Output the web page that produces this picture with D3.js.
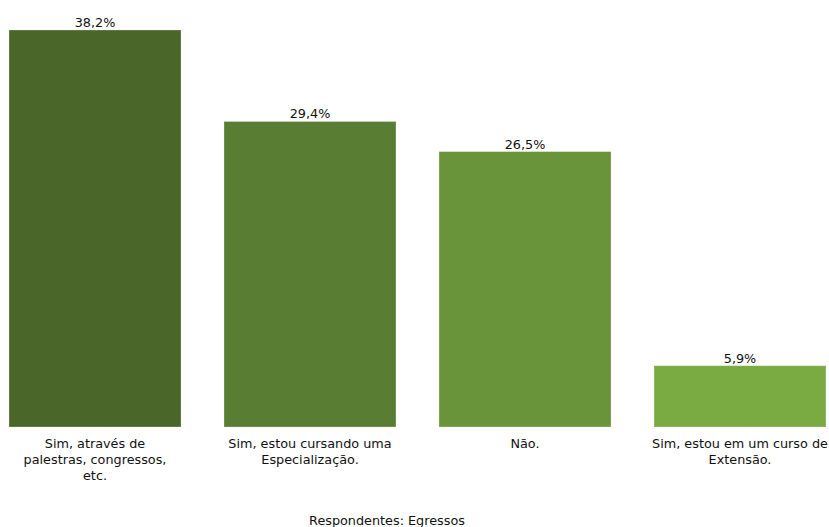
<!DOCTYPE html>
<html><head><meta charset="utf-8">
<script src="https://cdn.jsdelivr.net/npm/d3@7"></script>
<style>body{margin:0;background:#fff}svg{display:block}</style>
</head><body>
<svg id="c" width="829" height="527"></svg>
<script>
const categories = [
  ["Sim, através de", "palestras, congressos,", "etc."],
  ["Sim, estou cursando uma", "Especialização."],
  ["Não."],
  ["Sim, estou em um curso de", "Extensão."]
];
const values = [38.2, 29.4, 26.5, 5.9];
const valueLabels = ["38,2%", "29,4%", "26,5%", "5,9%"];
const colors = ["#4a6628", "#597d33", "#6a9439", "#7aab42"];
const xTitle = "Respondentes: Egressos";

const svg = d3.select("#c");
const font = "DejaVu Sans, sans-serif";
const fs = 12.8;
const x = d3.scaleBand().domain(d3.range(values.length)).range([9, 826]).paddingInner(0.2).paddingOuter(0);
const y = d3.scaleLinear().domain([0, 38.2]).range([427, 30]);

svg.selectAll("rect.bar").data(values).join("rect")
  .attr("class", "bar")
  .attr("x", (d, i) => x(i))
  .attr("y", d => y(d))
  .attr("width", x.bandwidth())
  .attr("height", d => y(0) - y(d))
  .attr("fill", (d, i) => colors[i])
  .attr("stroke", "#ffffff").attr("stroke-opacity", 0.35).attr("stroke-width", 0.8);

svg.selectAll("text.val").data(values).join("text")
  .attr("class", "val")
  .attr("x", (d, i) => x(i) + x.bandwidth() / 2)
  .attr("y", d => y(d) - 3)
  .attr("text-anchor", "middle")
  .attr("font-family", font).attr("font-size", fs).attr("fill", "#111")
  .text((d, i) => valueLabels[i]);

const cat = svg.selectAll("text.cat").data(categories).join("text")
  .attr("class", "cat")
  .attr("text-anchor", "middle")
  .attr("font-family", font).attr("font-size", fs).attr("fill", "#111");
cat.each(function(lines, i) {
  d3.select(this).selectAll("tspan").data(lines).join("tspan")
    .attr("x", x(i) + x.bandwidth() / 2)
    .attr("y", (l, j) => 448 + j * 16)
    .text(l => l);
});

svg.append("text")
  .attr("x", 387).attr("y", 525)
  .attr("text-anchor", "middle")
  .attr("font-family", font).attr("font-size", fs).attr("fill", "#111")
  .text(xTitle);
</script>
</body></html>
